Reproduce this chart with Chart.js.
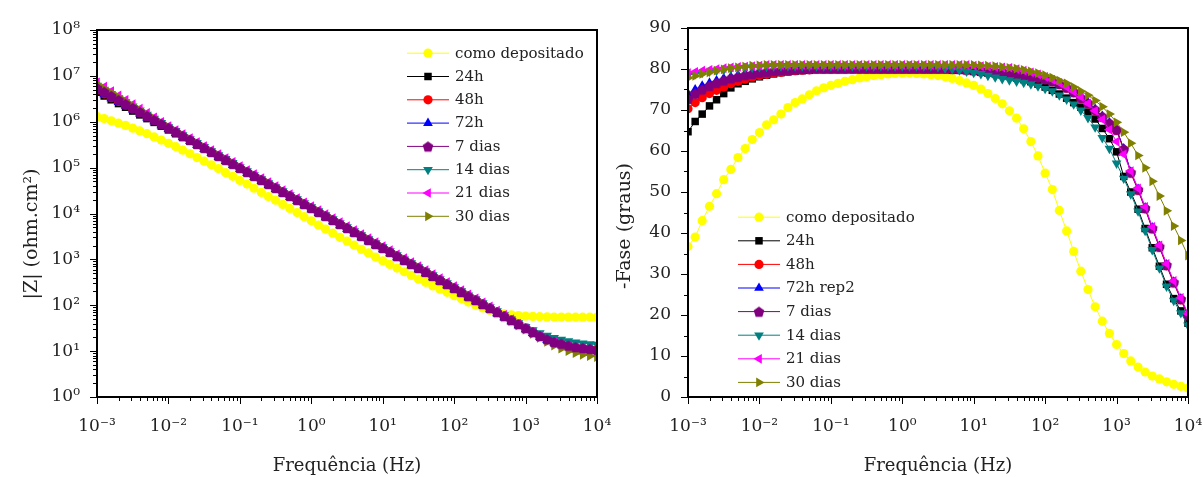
<!DOCTYPE html>
<html>
<head>
<meta charset="utf-8">
<script src="https://cdn.jsdelivr.net/npm/chart.js@4.4.0/dist/chart.umd.min.js"></script>
<style>
  body { margin: 0; background: #fff; width: 1203px; height: 477px; overflow: hidden; position: relative; }
  #chartZ { position: absolute; left: 0; top: 0; }
  #chartFase { position: absolute; left: 600px; top: 0; }
</style>
</head>
<body>
<canvas id="chartZ" width="640" height="477"></canvas>
<canvas id="chartFase" width="603" height="477"></canvas>
<script>
// frequencias (Hz), 10 pontos por decada
const frequencias = [
  1e-3,1.26e-3,1.58e-3,2e-3,2.51e-3,3.16e-3,3.98e-3,5.01e-3,6.31e-3,7.94e-3,
  1e-2,1.26e-2,1.58e-2,2e-2,2.51e-2,3.16e-2,3.98e-2,5.01e-2,6.31e-2,7.94e-2,
  0.1,0.126,0.158,0.2,0.251,0.316,0.398,0.501,0.631,0.794,
  1,1.26,1.58,2,2.51,3.16,3.98,5.01,6.31,7.94,
  10,12.6,15.8,20,25.1,31.6,39.8,50.1,63.1,79.4,
  100,126,158,200,251,316,398,501,631,794,
  1000,1260,1580,2000,2510,3160,3980,5010,6310,7940,10000
];

const rotulosZ = ['como depositado', '24h', '48h', '72h', '7 dias', '14 dias', '21 dias', '30 dias'];
const rotulosFase = ['como depositado', '24h', '48h', '72h rep2', '7 dias', '14 dias', '21 dias', '30 dias'];
const cores = ['#ffff00', '#000000', '#ff0000', '#0000ff', '#800080', '#008080', '#ff00ff', '#808000'];

const ticksFreq = [1e-3, 1e-2, 1e-1, 1, 10, 100, 1000, 10000];
const ticksZ = [1, 10, 100, 1e3, 1e4, 1e5, 1e6, 1e7, 1e8];
const ticksFase = [0, 10, 20, 30, 40, 50, 60, 70, 80, 90];

// |Z| (ohm.cm2)
const zComo = [
  1.29e6,1.17e6,1.05e6,9.33e5,8.32e5,7.24e5,6.31e5,5.50e5,4.68e5,3.98e5,
  3.39e5,2.88e5,2.40e5,2.00e5,1.66e5,1.38e5,1.15e5,9.55e4,7.76e4,6.46e4,
  5.25e4,4.37e4,3.55e4,2.88e4,2.34e4,1.95e4,1.58e4,1.29e4,1.05e4,8.51e3,
  6.92e3,5.62e3,4.57e3,3.72e3,3.02e3,2.51e3,2.04e3,1.66e3,1.38e3,1.12e3,
  933,776,646,537,447,372,316,263,224,191,
  162,138,117,100,87.1,77.6,70.8,65.3,61.7,59.6,
  58.2,57.1,56.4,55.8,55.5,55.2,55.1,55.0,55.0,54.9,54.9
];
const z24h = [
  4.40e6,3.64e6,3.01e6,2.49e6,2.07e6,1.71e6,1.41e6,1.17e6,9.68e5,8.02e5,
  6.64e5,5.50e5,4.55e5,3.77e5,3.11e5,2.58e5,2.10e5,1.72e5,1.41e5,1.16e5,
  9.42e4,7.71e4,6.29e4,5.16e4,4.22e4,3.45e4,2.82e4,2.31e4,1.89e4,1.54e4,
  1.26e4,1.03e4,8.43e3,6.90e3,5.65e3,4.62e3,3.77e3,3.09e3,2.53e3,2.06e3,
  1.69e3,1.38e3,1.13e3,924,756,620,506,414,339,277,
  226,185,151,124,101,83.0,67.8,55.5,45.4,37.1,
  30.4,24.9,20.5,17.5,15.2,13.9,12.7,11.8,11.2,10.8,10.4
];
const z48h = [
  4.90e6,4.06e6,3.35e6,2.77e6,2.30e6,1.90e6,1.57e6,1.30e6,1.08e6,8.89e5,
  7.36e5,6.03e5,4.92e5,4.03e5,3.30e5,2.70e5,2.20e5,1.80e5,1.48e5,1.21e5,
  9.86e4,8.07e4,6.59e4,5.40e4,4.42e4,3.61e4,2.95e4,2.42e4,1.98e4,1.61e4,
  1.32e4,1.08e4,8.83e3,7.23e3,5.92e3,4.84e3,3.95e3,3.24e3,2.65e3,2.16e3,
  1.77e3,1.45e3,1.18e3,968,792,649,530,434,355,290,
  237,194,158,130,106,86.9,71.0,58.1,47.5,38.8,
  31.8,26.0,21.4,18.2,15.8,14.5,13.2,12.3,11.7,11.1,10.6
];
const z72h = [
  4.79e6,3.94e6,3.24e6,2.67e6,2.20e6,1.82e6,1.49e6,1.23e6,1.01e6,8.34e5,
  6.87e5,5.63e5,4.59e5,3.76e5,3.08e5,2.52e5,2.05e5,1.68e5,1.38e5,1.13e5,
  9.20e4,7.53e4,6.15e4,5.04e4,4.12e4,3.37e4,2.75e4,2.26e4,1.85e4,1.50e4,
  1.23e4,1.01e4,8.24e3,6.75e3,5.52e3,4.52e3,3.69e3,3.02e3,2.47e3,2.02e3,
  1.65e3,1.35e3,1.10e3,903,739,606,494,405,331,271,
  221,181,147,121,98.9,81.1,66.2,54.2,44.3,36.2,
  29.7,24.5,20.3,17.4,15.2,14.0,12.8,12.0,11.4,10.9,10.5
];
const z7dias = [
  5.50e6,4.50e6,3.67e6,3.01e6,2.46e6,2.01e6,1.64e6,1.35e6,1.10e6,9.00e5,
  7.36e5,6.03e5,4.92e5,4.03e5,3.30e5,2.70e5,2.20e5,1.80e5,1.48e5,1.21e5,
  9.86e4,8.07e4,6.59e4,5.40e4,4.42e4,3.61e4,2.95e4,2.42e4,1.98e4,1.61e4,
  1.32e4,1.08e4,8.83e3,7.23e3,5.92e3,4.84e3,3.95e3,3.24e3,2.65e3,2.16e3,
  1.77e3,1.45e3,1.18e3,968,792,649,530,434,355,290,
  237,194,158,130,106,86.9,71.0,58.1,47.5,38.8,
  31.8,26.0,21.4,18.2,15.8,14.5,13.2,12.3,11.7,11.2,10.7
];
const z14dias = [
  6.17e6,5.01e6,4.06e6,3.30e6,2.69e6,2.18e6,1.77e6,1.44e6,1.17e6,9.49e5,
  7.71e5,6.31e5,5.15e5,4.22e5,3.46e5,2.83e5,2.30e5,1.88e5,1.55e5,1.27e5,
  1.03e5,8.45e4,6.90e4,5.65e4,4.63e4,3.78e4,3.09e4,2.53e4,2.07e4,1.69e4,
  1.38e4,1.13e4,9.24e3,7.57e3,6.20e3,5.07e3,4.14e3,3.39e3,2.77e3,2.26e3,
  1.85e3,1.52e3,1.24e3,1.01e3,829,680,555,454,372,304,
  248,203,165,136,111,91.0,74.3,60.8,49.7,40.8,
  34.0,28.8,24.8,21.8,19.6,17.9,16.6,15.6,14.9,14.3,13.9
];
const z21dias = [
  7.24e6,5.82e6,4.67e6,3.75e6,3.01e6,2.42e6,1.94e6,1.56e6,1.25e6,1.00e6,
  8.07e5,6.61e5,5.39e5,4.42e5,3.62e5,2.96e5,2.41e5,1.97e5,1.62e5,1.33e5,
  1.08e5,8.84e4,7.22e4,5.92e4,4.84e4,3.96e4,3.23e4,2.65e4,2.17e4,1.76e4,
  1.45e4,1.18e4,9.68e3,7.92e3,6.49e3,5.30e3,4.33e3,3.55e3,2.90e3,2.37e3,
  1.94e3,1.59e3,1.29e3,1.06e3,868,711,581,476,389,318,
  260,213,173,142,116,95.2,76.6,61.8,49.8,40.0,
  32.3,26.2,21.4,18.0,15.7,14.1,12.9,11.9,11.2,10.7,10.2
];
const z30dias = [
  6.61e6,5.33e6,4.30e6,3.47e6,2.80e6,2.26e6,1.82e6,1.47e6,1.19e6,9.55e5,
  7.71e5,6.31e5,5.15e5,4.22e5,3.46e5,2.83e5,2.30e5,1.88e5,1.55e5,1.27e5,
  1.03e5,8.45e4,6.90e4,5.65e4,4.63e4,3.78e4,3.09e4,2.53e4,2.07e4,1.69e4,
  1.38e4,1.13e4,9.24e3,7.57e3,6.20e3,5.07e3,4.14e3,3.39e3,2.77e3,2.26e3,
  1.85e3,1.52e3,1.24e3,1.01e3,829,680,555,454,372,304,
  248,203,165,136,111,88.0,70.0,56.5,45.5,36.5,
  29.5,23.8,19.3,15.8,13.2,11.3,10.0,9.0,8.3,7.8,7.4
];

// -fase (graus)
const faseComo = [
  36.7,39.0,43.0,46.5,49.6,53.0,55.5,58.4,60.6,62.8,
  64.5,66.4,67.6,69.0,70.6,71.8,72.7,73.7,74.7,75.4,
  76.0,76.5,77.0,77.4,77.8,78.1,78.4,78.6,78.8,78.9,
  79.0,79.0,78.9,78.8,78.6,78.4,78.1,77.7,77.2,76.6,
  76.0,75.1,74.0,72.8,71.5,69.8,68.0,65.4,62.3,58.8,
  54.6,50.6,45.5,40.5,35.5,30.7,26.2,22.0,18.5,15.5,
  12.8,10.6,8.8,7.3,6.1,5.1,4.4,3.7,3.1,2.6,2.2
];
const fase24h = [
  64.7,67.2,69.0,71.0,72.5,74.0,75.4,76.4,77.0,77.6,
  78.1,78.5,78.8,79.1,79.3,79.5,79.6,79.7,79.8,79.8,
  79.8,79.8,79.8,79.8,79.8,79.8,79.8,79.8,79.8,79.8,
  79.8,79.8,79.8,79.8,79.8,79.8,79.8,79.7,79.7,79.6,
  79.4,79.2,79.0,78.8,78.5,78.2,77.8,77.4,76.9,76.3,
  75.6,74.8,73.9,72.9,71.8,70.7,69.5,67.8,65.5,63.0,
  59.8,53.8,50.0,45.8,41.1,36.4,31.9,27.5,24.0,21.0,18.0
];
const fase48h = [
  70.3,71.8,73.0,74.0,74.8,75.6,76.4,77.0,77.5,78.0,
  78.4,78.7,79.0,79.2,79.4,79.6,79.7,79.8,79.9,79.9,
  79.9,79.9,79.9,79.9,79.9,79.9,79.9,79.9,79.9,79.9,
  79.9,79.9,79.9,79.9,79.9,79.9,79.9,79.9,79.9,79.7,
  79.6,79.4,79.3,79.2,79.1,78.9,78.7,78.4,78.1,77.8,
  77.4,76.9,76.2,75.3,74.2,72.8,71.5,69.9,68.2,66.6,
  65.0,60.3,54.6,50.4,45.9,41.0,36.5,32.0,27.8,23.7,19.8
];
const fase72h = [
  74.0,75.0,75.9,76.6,77.2,77.7,78.1,78.5,78.8,79.1,
  79.3,79.5,79.7,79.8,79.9,80.1,80.1,80.1,80.1,80.1,
  80.1,80.1,80.1,80.1,80.1,80.1,80.1,80.1,80.1,80.1,
  80.1,80.1,80.1,80.1,80.1,80.1,80.1,80.1,80.1,80.0,
  79.9,79.7,79.6,79.5,79.4,79.2,79.0,78.7,78.4,78.1,
  77.7,77.2,76.5,75.6,74.5,73.1,71.8,70.2,68.5,66.9,
  65.3,60.6,54.9,50.7,46.2,41.3,36.8,32.3,28.1,24.0,20.1
];
const fase7dias = [
  72.7,74.0,75.0,75.9,76.6,77.2,77.7,78.1,78.5,78.8,
  79.1,79.3,79.5,79.7,79.8,79.9,80.0,80.1,80.2,80.2,
  80.2,80.2,80.2,80.2,80.2,80.2,80.2,80.2,80.2,80.2,
  80.2,80.2,80.2,80.2,80.2,80.2,80.2,80.1,80.0,79.9,
  79.8,79.6,79.5,79.4,79.3,79.1,78.9,78.6,78.3,78.0,
  77.6,77.1,76.4,75.5,74.4,73.0,71.7,70.1,68.4,66.8,
  65.2,60.5,54.8,50.6,46.1,41.2,36.7,32.2,28.0,23.9,20.0
];
const fase14dias = [
  78.5,78.8,79.1,79.4,79.6,79.8,80.0,80.2,80.3,80.4,
  80.5,80.6,80.7,80.7,80.7,80.7,80.7,80.7,80.7,80.7,
  80.7,80.7,80.7,80.7,80.7,80.7,80.7,80.7,80.7,80.7,
  80.7,80.7,80.7,80.7,80.7,80.5,80.2,80.0,79.7,79.4,
  79.1,78.8,78.4,78.0,77.6,77.3,77.0,76.7,76.3,75.8,
  75.2,74.6,73.6,72.6,71.4,69.9,68.1,65.8,63.2,60.6,
  57.0,53.3,49.5,45.3,40.6,35.9,31.4,27.0,23.5,20.5,17.5
];
const fase21dias = [
  79.0,79.3,79.6,79.8,80.0,80.2,80.4,80.5,80.6,80.7,
  80.8,81.0,81.0,81.0,81.0,81.0,81.0,81.0,81.0,81.0,
  81.0,81.0,81.0,81.0,81.0,81.0,81.0,81.0,81.0,81.0,
  81.0,81.0,81.0,81.0,81.0,81.0,81.0,81.0,81.0,81.0,
  80.8,80.7,80.6,80.5,80.4,80.3,80.0,79.6,79.2,78.7,
  78.1,77.4,76.6,75.6,74.5,73.2,71.6,69.8,67.7,65.2,
  62.3,59.2,55.1,50.9,46.4,41.5,37.0,32.5,28.3,24.2,20.3
];
const fase30dias = [
  77.8,78.3,78.8,79.2,79.6,79.9,80.2,80.4,80.6,80.8,
  80.9,81.0,81.0,81.0,81.0,81.0,81.0,81.0,81.0,81.0,
  81.0,81.0,81.0,81.0,81.0,81.0,81.0,81.0,81.0,81.0,
  81.0,81.0,81.0,81.0,81.0,81.0,81.0,81.0,81.0,81.0,
  81.0,80.9,80.8,80.7,80.5,80.3,80.1,79.8,79.4,79.0,
  78.5,77.9,77.2,76.5,75.6,74.6,73.6,72.3,70.8,69.0,
  67.0,64.6,61.9,58.9,55.9,52.6,49.0,45.4,41.7,38.2,34.5
];

const fonte = '"DejaVu Serif", serif';
const corTexto = '#222';

// pentagono nao existe no Chart.js, entao vira uma imagem
function pentagono(cor, r) {
  const c = document.createElement('canvas');
  c.width = c.height = Math.ceil(r * 2 + 2);
  const g = c.getContext('2d');
  g.fillStyle = cor;
  g.beginPath();
  for (let i = 0; i < 5; i++) {
    const a = -Math.PI / 2 + i * 2 * Math.PI / 5;
    const px = c.width / 2 + r * Math.cos(a), py = c.height / 2 + r * Math.sin(a) + 0.6;
    if (i === 0) g.moveTo(px, py); else g.lineTo(px, py);
  }
  g.closePath();
  g.fill();
  return c;
}

const marcadores = [
  { style: 'circle', rot: 0, r: 4.6 },
  { style: 'rect', rot: 0, r: 5.3 },
  { style: 'circle', rot: 0, r: 4.6 },
  { style: 'triangle', rot: 0, r: 5.6 },
  { style: pentagono(cores[4], 5.6), rot: 0, r: 5.6 },
  { style: 'triangle', rot: 180, r: 5.6 },
  { style: 'triangle', rot: 270, r: 5.6 },
  { style: 'triangle', rot: 90, r: 5.6 },
];

const sobrescrito = { '-': '\u207B', '0': '\u2070', '1': '\u00B9', '2': '\u00B2', '3': '\u00B3', '4': '\u2074', '5': '\u2075', '6': '\u2076', '7': '\u2077', '8': '\u2078', '9': '\u2079' };
function potencia(v) {
  const e = String(Math.round(Math.log10(v)));
  return '10' + e.split('').map(ch => sobrescrito[ch]).join('');
}

function montaDatasets(rotulos, series, ordem) {
  return series.map((vals, i) => ({
    label: rotulos[i],
    data: frequencias.map((f, k) => ({ x: f, y: vals[k] })),
    showLine: true,
    borderColor: cores[i],
    backgroundColor: cores[i],
    borderWidth: 1,
    pointBackgroundColor: cores[i],
    pointBorderWidth: 0,
    pointStyle: marcadores[i].style,
    pointRotation: marcadores[i].rot,
    pointRadius: marcadores[i].r,
    pointHoverRadius: marcadores[i].r,
    order: ordem[i],
    clip: 0,
  }));
}

// moldura + tracinhos dos eixos + titulo vertical
const moldura = {
  id: 'moldura',
  afterDatasetsDraw(chart, args, opts) {
    const { ctx, chartArea: a, scales } = chart;
    ctx.save();
    ctx.strokeStyle = '#000';
    ctx.lineWidth = 1;
    ctx.beginPath();
    opts.xMaior.forEach(v => { const x = Math.round(scales.x.getPixelForValue(v)) + 0.5; ctx.moveTo(x, a.bottom); ctx.lineTo(x, a.bottom + 7); });
    opts.xMenor.forEach(v => { const x = Math.round(scales.x.getPixelForValue(v)) + 0.5; ctx.moveTo(x, a.bottom); ctx.lineTo(x, a.bottom + 4); });
    opts.yMaior.forEach(v => { const y = Math.round(scales.y.getPixelForValue(v)) + 0.5; ctx.moveTo(a.left, y); ctx.lineTo(a.left - 7, y); });
    opts.yMenor.forEach(v => { const y = Math.round(scales.y.getPixelForValue(v)) + 0.5; ctx.moveTo(a.left, y); ctx.lineTo(a.left - 4, y); });
    ctx.stroke();
    ctx.lineWidth = 2;
    ctx.strokeRect(a.left, a.top, a.right - a.left, a.bottom - a.top);

    ctx.translate(opts.tituloX, opts.tituloY);
    ctx.rotate(-Math.PI / 2);
    ctx.font = '19px ' + fonte;
    ctx.fillStyle = corTexto;
    ctx.textAlign = 'center';
    ctx.textBaseline = 'alphabetic';
    ctx.fillText(opts.titulo, 0, 0);
    ctx.restore();
  }
};

// legenda dentro da area do grafico
const legenda = {
  id: 'legenda',
  afterDraw(chart, args, opts) {
    const ctx = chart.ctx;
    ctx.save();
    ctx.font = '15px ' + fonte;
    ctx.textBaseline = 'middle';
    ctx.textAlign = 'left';
    chart.data.datasets.forEach((ds, i) => {
      const y = opts.y + i * opts.passo;
      ctx.strokeStyle = ds.borderColor;
      ctx.lineWidth = 1;
      ctx.beginPath();
      ctx.moveTo(opts.x, y + 0.5);
      ctx.lineTo(opts.x + 42, y + 0.5);
      ctx.stroke();
      ctx.fillStyle = ds.pointBackgroundColor;
      Chart.helpers.drawPoint(ctx, { pointStyle: ds.pointStyle, rotation: ds.pointRotation, radius: ds.pointRadius, borderWidth: 0 }, opts.x + 21, y + 0.5);
      ctx.fillStyle = corTexto;
      ctx.fillText(ds.label, opts.x + 48, y + 1);
    });
    ctx.restore();
  }
};

function menoresLog(decadas) {
  const out = [];
  for (let i = 0; i < decadas.length - 1; i++) {
    for (let m = 2; m <= 9; m++) out.push(decadas[i] * m);
  }
  return out;
}

function eixoX() {
  return {
    type: 'logarithmic', min: 1e-3, max: 1e4,
    afterBuildTicks: (s) => { s.ticks = ticksFreq.map(v => ({ value: v })); },
    afterFit: (s) => { s.height = 80; s.paddingLeft = 0; s.paddingRight = 0; },
    grid: { display: false },
    border: { display: false },
    ticks: { callback: potencia, maxRotation: 0, minRotation: 0, autoSkip: false, padding: 11, color: corTexto, font: { family: fonte, size: 17 } },
    title: { display: true, text: 'Frequência (Hz)', color: corTexto, font: { family: fonte, size: 18 }, padding: { top: 0, bottom: 0 } },
  };
}

new Chart(document.getElementById('chartZ'), {
  type: 'scatter',
  data: { datasets: montaDatasets(rotulosZ, [zComo, z24h, z48h, z72h, z7dias, z14dias, z21dias, z30dias], [8, 7, 6, 5, 1, 4, 3, 2]) },
  options: {
    responsive: false,
    animation: false,
    layout: { padding: { left: 0, top: 30, right: 43, bottom: 0 } },
    scales: {
      x: eixoX(),
      y: {
        type: 'logarithmic', min: 1, max: 1e8,
        afterBuildTicks: (s) => { s.ticks = ticksZ.map(v => ({ value: v })); },
        afterFit: (s) => { s.width = 97; s.paddingTop = 0; s.paddingBottom = 0; },
        grid: { display: false },
        border: { display: false },
        ticks: { callback: potencia, autoSkip: false, padding: 9, color: corTexto, font: { family: fonte, size: 17 } },
      },
    },
    plugins: {
      legend: { display: false },
      tooltip: { enabled: false },
      moldura: { xMaior: ticksFreq, xMenor: menoresLog(ticksFreq), yMaior: ticksZ, yMenor: menoresLog(ticksZ), titulo: '|Z| (ohm.cm²)', tituloX: 37, tituloY: 234 },
      legenda: { x: 407, y: 52.7, passo: 23.3 },
    },
  },
  plugins: [moldura, legenda],
});

new Chart(document.getElementById('chartFase'), {
  type: 'scatter',
  data: { datasets: montaDatasets(rotulosFase, [faseComo, fase24h, fase48h, fase72h, fase7dias, fase14dias, fase21dias, fase30dias], [8, 7, 6, 5, 4, 3, 2, 1]) },
  options: {
    responsive: false,
    animation: false,
    layout: { padding: { left: 0, top: 28, right: 15, bottom: 0 } },
    scales: {
      x: eixoX(),
      y: {
        type: 'linear', min: 0, max: 90,
        afterBuildTicks: (s) => { s.ticks = ticksFase.map(v => ({ value: v })); },
        afterFit: (s) => { s.width = 88; s.paddingTop = 0; s.paddingBottom = 0; },
        grid: { display: false },
        border: { display: false },
        ticks: { autoSkip: false, padding: 9, color: corTexto, font: { family: fonte, size: 17 } },
      },
    },
    plugins: {
      legend: { display: false },
      tooltip: { enabled: false },
      moldura: { xMaior: ticksFreq, xMenor: menoresLog(ticksFreq), yMaior: ticksFase, yMenor: [5, 15, 25, 35, 45, 55, 65, 75, 85], titulo: '-Fase (graus)', tituloX: 30, tituloY: 226 },
      legenda: { x: 138, y: 216.7, passo: 23.6 },
    },
  },
  plugins: [moldura, legenda],
});
</script>
</body>
</html>
